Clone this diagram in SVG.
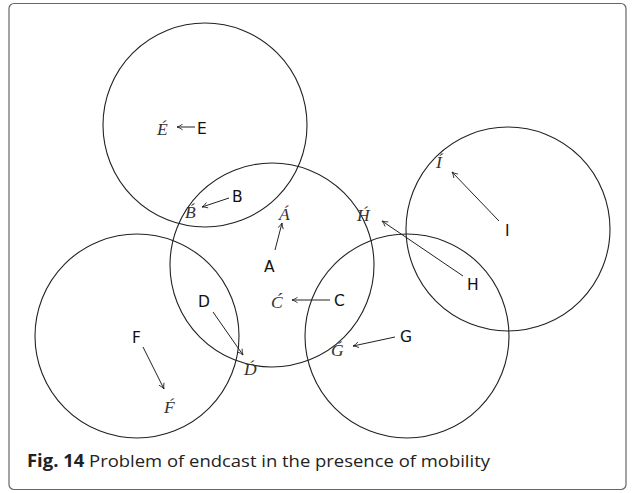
<svg xmlns="http://www.w3.org/2000/svg" width="635" height="493" viewBox="0 0 635 493">
<style>
.c{fill:none;stroke:#222;stroke-width:1.1}
.s{font-family:"DejaVu Sans","Liberation Sans",sans-serif;font-size:15.5px;fill:#111}
.m{font-family:"Liberation Serif",serif;font-style:italic;font-size:17.5px;fill:#333}
.a{fill:none;stroke:#222;stroke-width:1;marker-end:url(#h)}
.cap{font-family:"Open Sans","Liberation Sans",sans-serif;font-size:17px;fill:#222}
</style>
<defs>
<marker id="h" viewBox="0 0 10 10" refX="9" refY="5" markerWidth="7" markerHeight="7" orient="auto" markerUnits="userSpaceOnUse">
<path d="M1,1 Q5,4 9,5 Q5,6 1,9" fill="none" stroke="#222" stroke-width="1.2"/>
</marker>
</defs>
<rect x="9" y="3.5" width="617" height="486" rx="5" fill="#fff" stroke="#666" stroke-width="1.2"/>
<g id="nodes">
<g id="circleE"><circle class="c" cx="205" cy="125" r="102"/></g>
<g id="circleA"><circle class="c" cx="272" cy="265" r="102"/></g>
<g id="circleF"><circle class="c" cx="137" cy="336" r="102"/></g>
<g id="circleG"><circle class="c" cx="407" cy="336" r="102"/></g>
<g id="circleI"><circle class="c" cx="508" cy="229" r="102"/></g>
<g id="E"><text class="s" x="197" y="134">E</text><text class="m" x="157" y="135">É</text></g>
<g id="B"><text class="s" x="232" y="202">B</text><text class="m" x="185" y="218">B́</text></g>
<g id="A"><text class="s" x="264" y="272">A</text><text class="m" x="279" y="220">Á</text></g>
<g id="C"><text class="s" x="334" y="306">C</text><text class="m" x="271" y="308">Ć</text></g>
<g id="D"><text class="s" x="198" y="307">D</text><text class="m" x="244" y="375">D́</text></g>
<g id="F"><text class="s" x="132" y="343">F</text><text class="m" x="164" y="413">F́</text></g>
<g id="G"><text class="s" x="400" y="342">G</text><text class="m" x="331" y="356">Ǵ</text></g>
<g id="H"><text class="s" x="467" y="290">H</text><text class="m" x="357" y="221">H́</text></g>
<g id="I"><text class="s" x="505" y="236">I</text><text class="m" x="436" y="168">Í</text></g>
</g>
<g id="connectors">
<line class="a" x1="195" y1="127" x2="177" y2="127"/>
<line class="a" x1="229" y1="198" x2="202" y2="207"/>
<line class="a" x1="275" y1="250" x2="282" y2="223"/>
<line class="a" x1="330" y1="300" x2="292" y2="300"/>
<line class="a" x1="213" y1="312" x2="243" y2="355"/>
<line class="a" x1="143" y1="347" x2="164" y2="389"/>
<line class="a" x1="395" y1="337" x2="353" y2="346"/>
<line class="a" x1="463" y1="276" x2="382" y2="221"/>
<line class="a" x1="499" y1="221" x2="452" y2="172"/>
</g>
<text class="cap" x="27" y="467" textLength="463" lengthAdjust="spacingAndGlyphs"><tspan font-weight="bold">Fig. 14</tspan> Problem of endcast in the presence of mobility</text>
</svg>
